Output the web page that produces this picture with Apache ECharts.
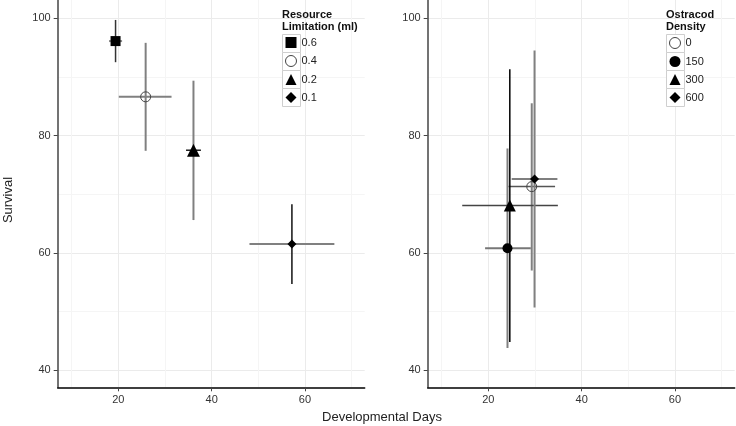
<!DOCTYPE html>
<html>
<head>
<meta charset="utf-8">
<script src="https://cdn.jsdelivr.net/npm/echarts@6/dist/echarts.min.js"></script>
<style>html,body{margin:0;padding:0;background:#fff}#c{width:736px;height:426px}</style>
</head>
<body>
<div id="c"></div>
<script>
// ---- data ----
const resLevels = ['0.6', '0.4', '0.2', '0.1'];
const resDays   = [19.4, 25.85, 36.1, 57.2];
const resDaysLo = [18.0, 20.1, 34.5, 48.1];
const resDaysHi = [20.8, 31.4, 37.7, 66.3];
const resSurv   = [96.1, 86.6, 77.5, 61.5];
const resSurvLo = [92.5, 77.4, 65.6, 54.7];
const resSurvHi = [99.7, 95.8, 89.35, 68.3];

const ostLevels = ['0', '150', '300', '600'];
const ostDays   = [29.3, 24.1, 24.6, 29.9];
const ostDaysLo = [24.3, 19.3, 14.4, 25.0];
const ostDaysHi = [34.3, 29.1, 34.9, 34.8];
const ostSurv   = [71.3, 60.8, 68.1, 72.6];
const ostSurvLo = [57.0, 43.8, 44.8, 50.7];
const ostSurvHi = [85.5, 77.8, 91.3, 94.5];

const xMajorTicks = [20, 40, 60];
const xMinorTicks = [10, 30, 50, 70];
const yMajorTicks = [40, 60, 80, 100];
const yMinorTicks = [50, 70, 90];

// ---- styles ----
const FONT = '"Liberation Sans", Arial, sans-serif';
const resSymbols = ['rect', 'hollow', 'triangle', 'diamond'];
const resSizes = [10, 10, 13, 9];
const ostSymbols = ['hollow', 'circle', 'triangle', 'diamond'];
const ostSizes = [10, 10, 12, 9];
const resBarStyle = [
  {v: ['#333', 1.5], h: ['#888', 2]},
  {v: ['#808080', 2], h: ['#808080', 2]},
  {v: ['#808080', 2], h: ['#222', 1.5]},
  {v: ['#111', 1.5], h: ['#808080', 2]}
];
const ostBarStyle = [
  {v: ['#808080', 2], h: ['#555', 1.5]},
  {v: ['#808080', 2], h: ['#777', 2]},
  {v: ['#000', 1.5], h: ['#444', 1.5]},
  {v: ['#808080', 2], h: ['#555', 1.5]}
];

function symStyle(sym) {
  return sym === 'hollow'
    ? {symbol: 'circle', itemStyle: {color: 'rgba(255,255,255,0)', borderColor: '#444', borderWidth: 1, opacity: 1}}
    : {symbol: sym, itemStyle: {color: '#000', opacity: 1}};
}

const gridW = 307;
const grids = [
  {left: 57.7, top: 0, width: gridW, bottom: 38.7},
  {left: 427.7, top: 0, width: gridW, bottom: 38.7}
];

function xAxes(gi) {
  return [
    {
      type: 'value', gridIndex: gi, min: 7.0, max: 72.8, position: 'bottom',
      axisLine: {show: true, onZero: false, lineStyle: {color: '#000', width: 1.5}},
      axisTick: {show: true, length: 4, customValues: xMajorTicks, lineStyle: {color: '#444'}},
      axisLabel: {customValues: xMajorTicks, margin: 7, color: '#333', fontSize: 11, fontFamily: FONT},
      splitLine: {show: true, lineStyle: {color: '#ebebeb', width: 1}}
    },
    {
      type: 'value', gridIndex: gi, min: 7.0, max: 72.8, position: 'top',
      axisLine: {show: false}, axisLabel: {show: false},
      axisTick: {show: false, customValues: xMinorTicks},
      splitLine: {show: true, lineStyle: {color: '#f5f5f5', width: 1}}
    }
  ];
}
function yAxes(gi) {
  return [
    {
      type: 'value', gridIndex: gi, min: 37.1, max: 103.1, position: 'left',
      axisLine: {show: true, onZero: false, lineStyle: {color: '#444', width: 1.5}},
      axisTick: {show: true, length: 4, customValues: yMajorTicks, lineStyle: {color: '#444'}},
      axisLabel: {customValues: yMajorTicks, margin: 7, color: '#333', fontSize: 11, fontFamily: FONT},
      splitLine: {show: true, lineStyle: {color: '#ebebeb', width: 1}}
    },
    {
      type: 'value', gridIndex: gi, min: 37.1, max: 103.1, position: 'right',
      axisLine: {show: false}, axisLabel: {show: false},
      axisTick: {show: false, customValues: yMinorTicks},
      splitLine: {show: true, lineStyle: {color: '#f5f5f5', width: 1}}
    }
  ];
}

function errSeries(gi, days, lo, hi, surv, slo, shi, styles) {
  const data = days.map((d, i) => [d, surv[i], lo[i], hi[i], slo[i], shi[i], i]);
  return {
    type: 'custom', xAxisIndex: gi * 2, yAxisIndex: gi * 2, z: 2, silent: true,
    data: data,
    encode: {x: [0, 2, 3], y: [1, 4, 5]},
    renderItem: function (params, api) {
      const x = api.value(0), y = api.value(1);
      const st = styles[api.value(6)];
      const pL = api.coord([api.value(2), y]);
      const pR = api.coord([api.value(3), y]);
      const pB = api.coord([x, api.value(4)]);
      const pT = api.coord([x, api.value(5)]);
      return {
        type: 'group',
        children: [
          {type: 'line', shape: {x1: pL[0], y1: pL[1], x2: pR[0], y2: pR[1]},
           style: {stroke: st.h[0], lineWidth: st.h[1]}},
          {type: 'line', shape: {x1: pB[0], y1: pB[1], x2: pT[0], y2: pT[1]},
           style: {stroke: st.v[0], lineWidth: st.v[1]}}
        ]
      };
    }
  };
}

const series = [];
series.push(errSeries(0, resDays, resDaysLo, resDaysHi, resSurv, resSurvLo, resSurvHi, resBarStyle));
series.push(errSeries(1, ostDays, ostDaysLo, ostDaysHi, ostSurv, ostSurvLo, ostSurvHi, ostBarStyle));
resLevels.forEach((name, i) => {
  series.push(Object.assign({
    type: 'scatter', name: name, xAxisIndex: 0, yAxisIndex: 0, z: 5,
    symbolSize: resSizes[i],
    data: [[resDays[i], resSurv[i]]]
  }, symStyle(resSymbols[i])));
});
ostLevels.forEach((name, i) => {
  series.push(Object.assign({
    type: 'scatter', name: name, xAxisIndex: 2, yAxisIndex: 2, z: 5,
    symbolSize: ostSizes[i],
    data: [[ostDays[i], ostSurv[i]]]
  }, symStyle(ostSymbols[i])));
});

function legend(x, names, symbols) {
  return {
    orient: 'vertical', left: x, top: 37, itemWidth: 11, itemHeight: 11, itemGap: 7,
    padding: 0, selectedMode: false,
    data: names.map((n, i) => {
      const s = symStyle(symbols[i]);
      return {name: n, icon: s.symbol, itemStyle: s.itemStyle};
    }),
    textStyle: {fontSize: 11, fontFamily: FONT, color: '#222', lineHeight: 11, padding: [0, 0, 0, 0]}
  };
}

function legendBoxes(x) {
  const out = [];
  for (let r = 0; r < 4; r++) {
    out.push({type: 'rect', left: x, top: 34 + r * 18, z: 1,
      shape: {width: 18, height: 18},
      style: {fill: '#fff', stroke: '#cfcfcf', lineWidth: 1}});
  }
  return out;
}

const option = {
  animation: false,
  backgroundColor: '#fff',
  grid: grids,
  xAxis: xAxes(0).concat(xAxes(1)),
  yAxis: yAxes(0).concat(yAxes(1)),
  legend: [legend(285, resLevels, resSymbols), legend(669, ostLevels, ostSymbols)],
  graphic: [].concat(
    legendBoxes(282),
    legendBoxes(666),
    [
      {type: 'text', left: 282, top: 9, z: 10,
       style: {text: 'Resource\nLimitation (ml)', font: 'bold 11px ' + FONT, fill: '#111', lineHeight: 12}},
      {type: 'text', left: 666, top: 9, z: 10,
       style: {text: 'Ostracod\nDensity', font: 'bold 11px ' + FONT, fill: '#111', lineHeight: 12}},
      {type: 'text', x: 382, y: 417, z: 10,
       style: {text: 'Developmental Days', font: '13px ' + FONT, fill: '#222', align: 'center', verticalAlign: 'middle'}},
      {type: 'text', x: 8, y: 200, rotation: Math.PI / 2, z: 10,
       style: {text: 'Survival', font: '13px ' + FONT, fill: '#222', align: 'center', verticalAlign: 'middle'}}
    ]
  ),
  series: series
};

const chart = echarts.init(document.getElementById('c'), null, {renderer: 'canvas'});
chart.setOption(option);
</script>
</body>
</html>
